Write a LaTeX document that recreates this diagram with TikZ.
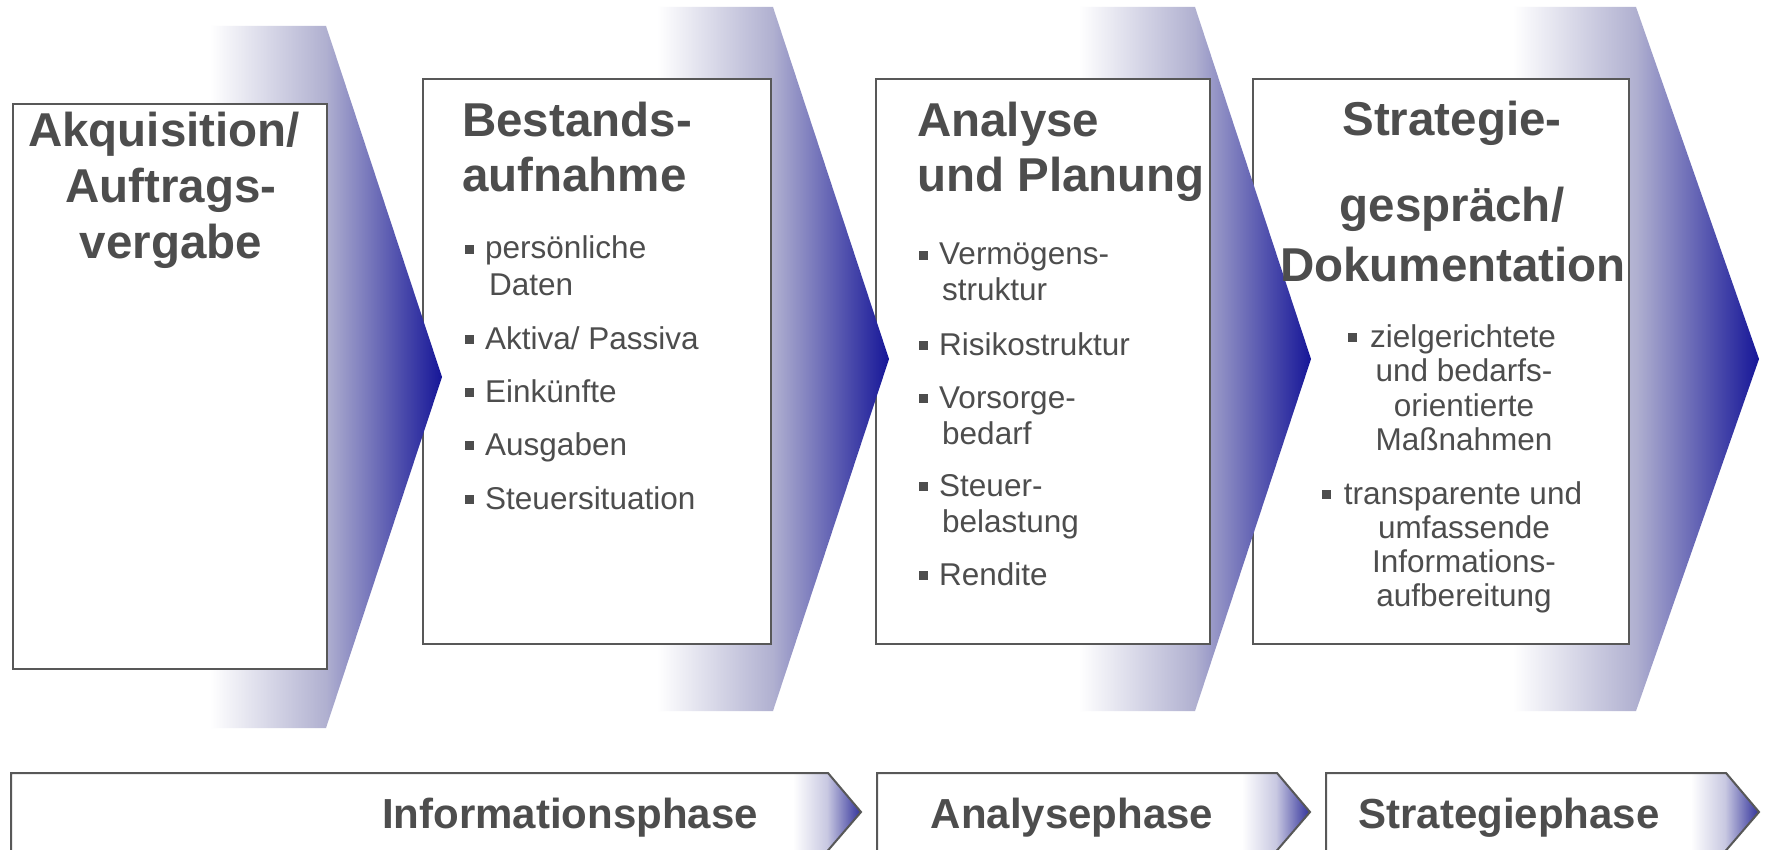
\documentclass[tikz,border=0pt]{standalone}
\usepackage{fontspec}
\setmainfont{Liberation Sans}
\definecolor{txt}{RGB}{77,77,77}
\definecolor{edge}{RGB}{88,88,88}
\definecolor{lav}{RGB}{176,176,208}
\definecolor{navy}{RGB}{22,22,152}
\definecolor{plav}{RGB}{200,200,225}
\definecolor{pblue}{RGB}{50,50,155}
\pgfdeclarehorizontalshading{chev}{100bp}{color(0bp)=(white); color(25bp)=(white); color(50bp)=(lav); color(75bp)=(navy); color(100bp)=(navy)}
\pgfdeclarehorizontalshading{phs}{100bp}{color(0bp)=(white); color(25bp)=(white); color(50bp)=(plav); color(75bp)=(pblue); color(100bp)=(pblue)}
\tikzset{
  ttl/.style={inner sep=0pt, anchor=base, text=txt, font=\fontsize{47.5}{57}\selectfont\bfseries},
  ttlL/.style={ttl, anchor=base west},
  itm/.style={inner sep=0pt, anchor=base west, text=txt, font=\fontsize{31.5}{36}\selectfont},
  itmC/.style={itm, anchor=base},
  bul/.style={fill=txt, draw=none, minimum size=9pt, inner sep=0pt},
  phase/.style={inner sep=0pt, anchor=base, text=txt, font=\fontsize{42}{50}\selectfont\bfseries},
  stepbox/.style={draw=edge, line width=2.5pt, fill=white},
  chevron/.style={shading=chev},
  parrow/.style={draw=edge, line width=2pt},
}
\begin{document}
\begin{tikzpicture}[x=1pt,y=-1pt]
\useasboundingbox[fill=white] (0,0) rectangle (1766,850);

% ---- chevrons and boxes (back to front) ----
\shade[chevron] (1513,7) -- (1636,7) -- (1759,359) -- (1636,711) -- (1513,711) -- cycle;
\draw[stepbox] (1253,79) rectangle (1629,644);
\shade[chevron] (1079,7) -- (1195,7) -- (1311,359) -- (1195,711) -- (1079,711) -- cycle;
\draw[stepbox] (876,79) rectangle (1210,644);
\shade[chevron] (657,7) -- (773,7) -- (889,359) -- (773,711) -- (657,711) -- cycle;
\draw[stepbox] (423,79) rectangle (771,644);
\shade[chevron] (210,26) -- (326,26) -- (442,377) -- (326,728) -- (210,728) -- cycle;
\draw[stepbox] (13,104) rectangle (327,669);

% ---- phase arrows ----
\shade[shading=phs] (793,773) -- (828,773) -- (861,812) -- (828,851) -- (793,851) -- cycle;
\draw[parrow] (11,855) -- (11,773) -- (828,773) -- (861,812) -- (824,855);
\shade[shading=phs] (1242,773) -- (1277,773) -- (1310,812) -- (1277,851) -- (1242,851) -- cycle;
\draw[parrow] (877,855) -- (877,773) -- (1277,773) -- (1310,812) -- (1273,855);
\shade[shading=phs] (1691,773) -- (1726,773) -- (1759,812) -- (1726,851) -- (1691,851) -- cycle;
\draw[parrow] (1326,855) -- (1326,773) -- (1726,773) -- (1759,812) -- (1722,855);

\node[phase] (p1) at (570,828) {Informationsphase};
\node[phase] (p2) at (1072,828) {Analysephase};
\node[phase] (p3) at (1509,828) {Strategiephase};

% ---- box 1 ----
\node[ttl] (a1) at (164,147) {Akquisition/};
\node[ttl] (a2) at (171,203) {Auftrags-};
\node[ttl] (a3) at (171,259) {vergabe};

% ---- box 2 ----
\node[ttlL] (b1) at (462,137) {Bestands-};
\node[ttlL] (b2) at (462,192) {aufnahme};
\node[itm] (b3) at (485,259) {persönliche};
\node[itm] (b4) at (489,295) {Daten};
\node[itm] (b5) at (485,349) {Aktiva/ Passiva};
\node[itm] (b6) at (485,402) {Einkünfte};
\node[itm] (b7) at (485,455) {Ausgaben};
\node[itm] (b8) at (485,509) {Steuersituation};
\foreach \n in {b3,b5,b6,b7,b8}
  \node[bul] (q\n) at ([xshift=-15.5pt,yshift=9.5pt]\n.base west) {};

% ---- box 3 ----
\node[ttlL] (c1) at (917,137) {Analyse};
\node[ttlL] (c2) at (917,192) {und Planung};
\node[itm] (c3) at (939,265) {Vermögens-};
\node[itm] (c4) at (942,301) {struktur};
\node[itm] (c5) at (939,355) {Risikostruktur};
\node[itm] (c6) at (939,408) {Vorsorge-};
\node[itm] (c7) at (942,444) {bedarf};
\node[itm] (c8) at (939,496) {Steuer-};
\node[itm] (c9) at (942,532) {belastung};
\node[itm] (c10) at (939,585) {Rendite};
\foreach \n in {c3,c5,c6,c8,c10}
  \node[bul] (q\n) at ([xshift=-15.5pt,yshift=9.5pt]\n.base west) {};

% ---- box 4 ----
\node[ttl] (d1) at (1452,136) {Strategie-};
\node[ttl] (d2) at (1452,222) {gespräch/};
\node[ttl] (d3) at (1453,281) {Dokumentation};
\node[itmC] (d4) at (1463,347) {zielgerichtete};
\node[itmC] (d5) at (1464,381.5) {und bedarfs-};
\node[itmC] (d6) at (1464,416) {orientierte};
\node[itmC] (d7) at (1464,450.5) {Maßnahmen};
\node[itmC] (d8) at (1463,504) {transparente und};
\node[itmC] (d9) at (1464,538) {umfassende};
\node[itmC] (d10) at (1464,572) {Informations-};
\node[itmC] (d11) at (1464,606) {aufbereitung};
\foreach \n in {d4,d8}
  \node[bul] (q\n) at ([xshift=-17.5pt,yshift=9.5pt]\n.base west) {};
\end{tikzpicture}
\end{document}
